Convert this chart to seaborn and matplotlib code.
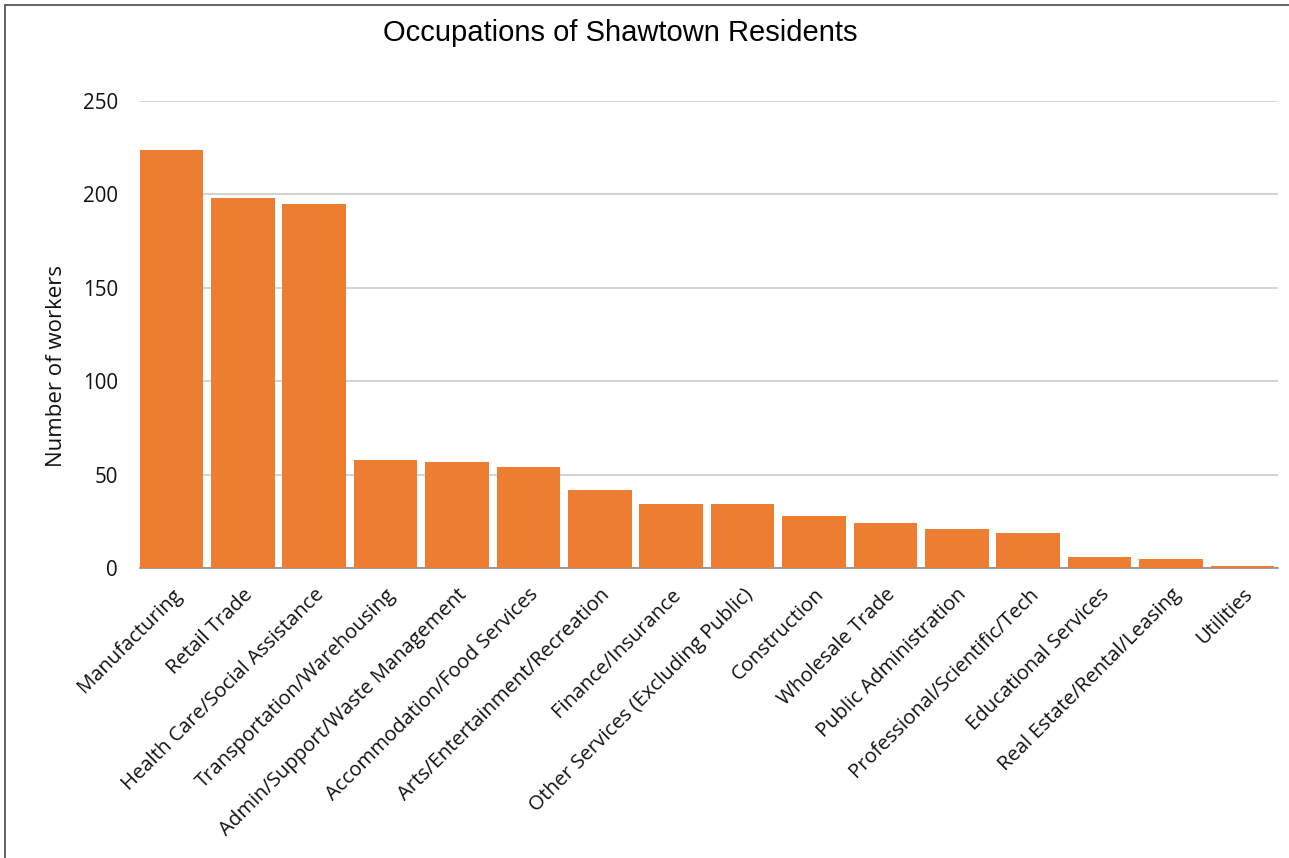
import matplotlib
matplotlib.use("Agg")
import matplotlib.pyplot as plt
from matplotlib.lines import Line2D
import seaborn as sns
import pandas as pd

categories = [
    "Manufacturing", "Retail Trade", "Health Care/Social Assistance",
    "Transportation/Warehousing", "Admin/Support/Waste Management",
    "Accommodation/Food Services", "Arts/Entertainment/Recreation",
    "Finance/Insurance", "Other Services (Excluding Public)", "Construction",
    "Wholesale Trade", "Public Administration", "Professional/Scientific/Tech",
    "Educational Services", "Real Estate/Rental/Leasing", "Utilities",
]
workers = [224, 198, 195, 58, 57, 54, 42, 34, 34, 28, 24, 21, 19, 6, 5, 1]
y_ticks = [0, 50, 100, 150, 200, 250]

df = pd.DataFrame({"occupation": categories, "workers": workers})

sns.set_theme(style="white")
plt.rcParams["font.family"] = ["Open Sans", "DejaVu Sans"]

fig = plt.figure(figsize=(12.89, 8.58), dpi=100)
ax = fig.add_axes([0.1086, 0.338, 0.8829, 0.5443])

sns.barplot(data=df, x="occupation", y="workers", color="#ED7D31",
            saturation=1, width=0.89, linewidth=0, ax=ax, zorder=5)

ax.set_ylim(0, 250)
ax.set_xlim(-0.44, 15.5)
ax.set_yticks(y_ticks)
ax.set_yticklabels([str(v) for v in y_ticks], fontsize=14.8, color="#111111")
ax.grid(axis="y", color="#D0D0D0", linewidth=1.3, zorder=0)
ax.grid(axis="x", visible=False)
ax.tick_params(axis="y", length=0, pad=16)
ax.tick_params(axis="x", length=0, pad=12)
ax.set_xticks(range(len(categories)))
ax.set_xticklabels(categories, rotation=45, ha="right", rotation_mode="anchor",
                   fontsize=14.6, color="#111111")
for s in ["top", "right", "left"]:
    ax.spines[s].set_visible(False)
ax.spines["bottom"].set_color("#8C8C8C")
ax.spines["bottom"].set_linewidth(1.2)
ax.spines["bottom"].set_zorder(4)
ax.set_xlabel("")
ax.set_ylabel("")

fig.text(0.481, 0.9615, "Occupations of Shawtown Residents", ha="center",
         va="center", fontsize=21, family=["Liberation Sans", "DejaVu Sans"],
         color="#000000")
fig.text(0.0435, 0.573, "Number of workers", rotation=90, ha="center",
         va="center", fontsize=16, color="#111111")

# thin frame along the top and left edge of the canvas
fig.add_artist(Line2D([0.0039, 1.0], [0.9942, 0.9942], color="#555555",
                      linewidth=1.3, transform=fig.transFigure))
fig.add_artist(Line2D([0.0039, 0.0039], [0.0, 0.9942], color="#555555",
                      linewidth=1.3, transform=fig.transFigure))

fig.savefig("out.png", dpi=100, facecolor="white")
